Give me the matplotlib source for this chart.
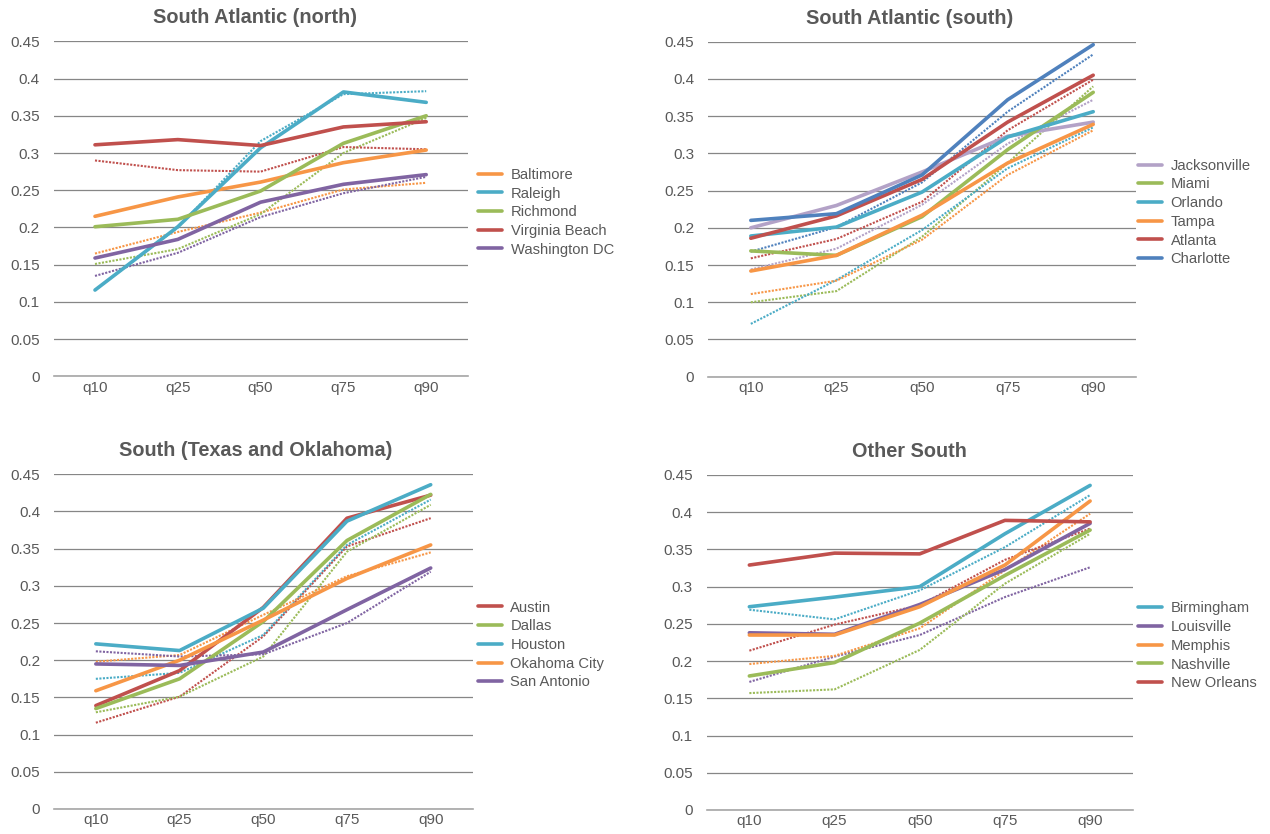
import matplotlib
matplotlib.use("Agg")
import matplotlib.pyplot as plt

plt.rcParams['font.family'] = ['Liberation Sans', 'DejaVu Sans']

quantiles = ["q10", "q25", "q50", "q75", "q90"]

# South Atlantic (north)
north_cities = ["Baltimore", "Raleigh", "Richmond", "Virginia Beach", "Washington DC"]
north_solid = [
    [0.215, 0.241, 0.261, 0.287, 0.304],
    [0.116, 0.201, 0.307, 0.382, 0.368],
    [0.201, 0.211, 0.249, 0.313, 0.350],
    [0.311, 0.318, 0.310, 0.335, 0.342],
    [0.159, 0.184, 0.234, 0.258, 0.271],
]
north_dotted = [
    [0.165, 0.194, 0.220, 0.251, 0.260],
    [0.116, 0.200, 0.316, 0.379, 0.383],
    [0.151, 0.171, 0.218, 0.300, 0.347],
    [0.290, 0.277, 0.275, 0.308, 0.305],
    [0.135, 0.166, 0.214, 0.246, 0.268],
]

# South Atlantic (south)
south_cities = ["Jacksonville", "Miami", "Orlando", "Tampa", "Atlanta", "Charlotte"]
south_solid = [
    [0.200, 0.230, 0.275, 0.323, 0.342],
    [0.169, 0.163, 0.215, 0.305, 0.382],
    [0.189, 0.201, 0.248, 0.322, 0.356],
    [0.142, 0.163, 0.217, 0.287, 0.339],
    [0.186, 0.216, 0.265, 0.342, 0.405],
    [0.210, 0.219, 0.271, 0.372, 0.446],
]
south_dotted = [
    [0.144, 0.172, 0.231, 0.313, 0.372],
    [0.100, 0.115, 0.188, 0.287, 0.390],
    [0.071, 0.130, 0.197, 0.280, 0.335],
    [0.111, 0.129, 0.184, 0.271, 0.331],
    [0.159, 0.185, 0.235, 0.331, 0.399],
    [0.168, 0.201, 0.261, 0.356, 0.433],
]

# South (Texas and Oklahoma)
texas_cities = ["Austin", "Dallas", "Houston", "Okahoma City", "San Antonio"]
texas_solid = [
    [0.139, 0.186, 0.271, 0.391, 0.422],
    [0.135, 0.175, 0.252, 0.361, 0.423],
    [0.222, 0.213, 0.270, 0.387, 0.436],
    [0.159, 0.200, 0.254, 0.310, 0.355],
    [0.195, 0.193, 0.211, 0.268, 0.324],
]
texas_dotted = [
    [0.116, 0.151, 0.232, 0.353, 0.391],
    [0.130, 0.151, 0.205, 0.346, 0.409],
    [0.175, 0.183, 0.234, 0.355, 0.416],
    [0.198, 0.207, 0.261, 0.313, 0.345],
    [0.212, 0.205, 0.208, 0.250, 0.319],
]

# Other South
other_cities = ["Birmingham", "Louisville", "Memphis", "Nashville", "New Orleans"]
other_solid = [
    [0.273, 0.286, 0.300, 0.371, 0.436],
    [0.238, 0.236, 0.276, 0.323, 0.385],
    [0.235, 0.235, 0.273, 0.329, 0.415],
    [0.180, 0.198, 0.251, 0.315, 0.376],
    [0.329, 0.345, 0.344, 0.389, 0.387],
]
other_dotted = [
    [0.269, 0.256, 0.295, 0.353, 0.423],
    [0.172, 0.206, 0.235, 0.286, 0.326],
    [0.196, 0.207, 0.244, 0.322, 0.398],
    [0.157, 0.162, 0.215, 0.304, 0.371],
    [0.214, 0.249, 0.275, 0.336, 0.378],
]

ORANGE = "#F79646"
AQUA = "#4BACC6"
GREEN = "#9BBB59"
RED = "#C0504D"
PURPLE = "#8064A2"
BLUE = "#4F81BD"
LAVENDER = "#B3A2C7"
TEXT = "#595959"
GRID = "#868686"

# title, legend names, solid series, dotted series, colours, axes rect, legend x, title x
panels = [
    ("South Atlantic (north)", north_cities, north_solid, north_dotted,
     [ORANGE, AQUA, GREEN, RED, PURPLE], [0.0422, 0.5486, 0.3260, 0.4019], 1.026, 0.487),
    ("South Atlantic (south)", south_cities, south_solid, south_dotted,
     [LAVENDER, GREEN, AQUA, ORANGE, RED, BLUE], [0.5575, 0.5483, 0.3370, 0.4017], 1.005, 0.472),
    ("South (Texas and Oklahoma)", texas_cities, texas_solid, texas_dotted,
     [RED, GREEN, AQUA, ORANGE, PURPLE], [0.0425, 0.0300, 0.3296, 0.4013], 1.013, 0.482),
    ("Other South", other_cities, other_solid, other_dotted,
     [AQUA, PURPLE, ORANGE, GREEN, RED], [0.5565, 0.0288, 0.3354, 0.4017], 1.013, 0.476),
]

yticks = [0, 0.05, 0.1, 0.15, 0.2, 0.25, 0.3, 0.35, 0.4, 0.45]
ylabels = ["0", "0.05", "0.1", "0.15", "0.2", "0.25", "0.3", "0.35", "0.4", "0.45"]

fig = plt.figure(figsize=(12.7, 8.34), dpi=100)

for title, cities, solid, dotted, colors, rect, leg_x, title_x in panels:
    ax = fig.add_axes(rect)
    x = range(len(quantiles))
    for vals, c in zip(dotted, colors):
        ax.plot(x, vals, color=c, lw=1.5, linestyle=(0, (1, 0.7)), zorder=2)
    for vals, c, name in zip(solid, colors, cities):
        ax.plot(x, vals, color=c, lw=2.6, label=name, zorder=3,
                solid_capstyle="round", solid_joinstyle="round")

    ax.set_xlim(-0.5, len(quantiles) - 0.5)
    ax.set_ylim(0, 0.45)
    ax.set_xticks(list(x))
    ax.set_xticklabels(quantiles)
    ax.set_yticks(yticks)
    ax.set_yticklabels(ylabels)
    ax.tick_params(axis="y", length=0, pad=10, labelsize=11, labelcolor=TEXT)
    ax.tick_params(axis="x", length=0, pad=3, labelsize=11, labelcolor=TEXT)
    ax.grid(axis="y", color=GRID, lw=0.9, zorder=0)
    ax.set_axisbelow(True)
    for side in ["left", "right", "top"]:
        ax.spines[side].set_visible(False)
    ax.spines["bottom"].set_color("#A6A6A6")
    ax.spines["bottom"].set_linewidth(1.2)
    ax.spines["bottom"].set_zorder(1)

    ax.set_title(title, x=title_x, pad=13, fontsize=14.3, fontweight="bold", color=TEXT)

    leg = ax.legend(loc="center left", bbox_to_anchor=(leg_x, 0.49), frameon=False,
                    fontsize=10.6, handlelength=1.6, handletextpad=0.6,
                    labelspacing=0.32, borderpad=0, borderaxespad=0)
    for t in leg.get_texts():
        t.set_color(TEXT)

fig.savefig("out.png", dpi=100)
